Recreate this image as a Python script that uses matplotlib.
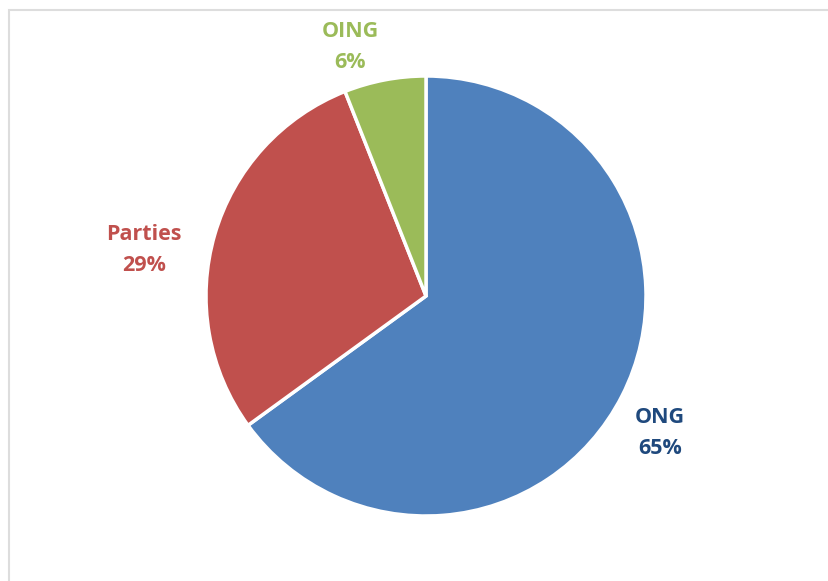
import matplotlib.pyplot as plt
from matplotlib.patches import Rectangle

categories = ["ONG", "Parties", "OING"]
shares = [65, 29, 6]

slice_colors = ["#4F81BD", "#C0504D", "#9BBB59"]
label_colors = ["#1F497D", "#C0504D", "#9BBB59"]
# label anchor points in pixel space (x, y from top)
label_pos = [(660, 433), (144, 250), (350, 47)]

W, H = 829, 581
fig = plt.figure(figsize=(W / 100, H / 100), dpi=100)
ax = fig.add_axes([0, 0, 1, 1])
ax.set_xlim(0, W)
ax.set_ylim(0, H)
ax.set_aspect("equal")
ax.axis("off")

# chart area frame
ax.add_patch(Rectangle((9.5, -5), W, H - 9.5 + 5, fill=False,
                       edgecolor="#DDDDDD", linewidth=1.5))

ax.pie(shares, colors=slice_colors, startangle=90, counterclock=False,
       center=(426, H - 296), radius=220,
       wedgeprops=dict(edgecolor="white", linewidth=2.5))
ax.set_xlim(0, W)
ax.set_ylim(0, H)

for name, val, col, (x, y) in zip(categories, shares, label_colors, label_pos):
    ax.text(x, H - y, f"{name}\n{val}%", color=col, ha="center", va="center",
            fontsize=15.5, fontweight="bold", family="Open Sans",
            linespacing=1.65)

fig.savefig("out.png", dpi=100)
